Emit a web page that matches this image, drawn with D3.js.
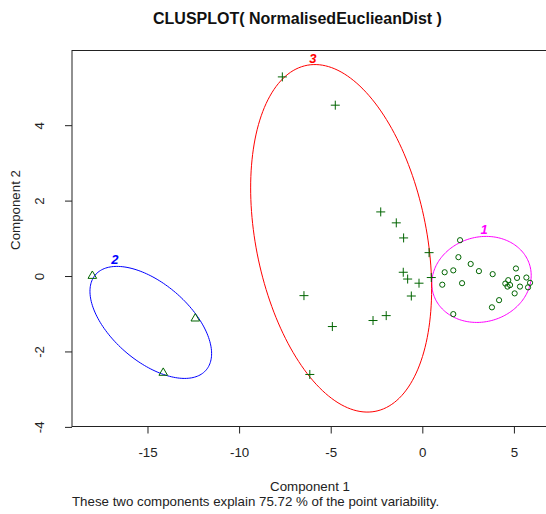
<!DOCTYPE html>
<html>
<head>
<meta charset="utf-8">
<script src="https://cdn.jsdelivr.net/npm/d3@7"></script>
<style>
  body { margin: 0; background: #fff; }
  svg { font-family: "Liberation Sans", Arial, sans-serif; }
</style>
</head>
<body>
<div id="chart"></div>
<script>
var width = 546;
var height = 514;

// points (component 1, component 2) and their cluster
var comp1 = [
  2.06, 1.97, 2.64, 1.22, 1.69, 3.09, 3.84, 5.11, 1.09, 2.17, 4.69, 4.53,
  4.79, 5.17, 5.68, 5.88, 5.33, 5.77, 5.04, 4.19, 3.80, 1.69, 4.65,
  -18.01, -12.39, -14.14,
  -2.27, -1.42, -1.02, 0.37, -1.04, -0.80, -0.18, 0.49, -0.60, -6.46, -1.97,
  -2.69, -4.91, -7.64, -4.75, -6.14
];
var comp2 = [
  0.95, 0.50, 0.32, 0.10, 0.15, 0.13, 0.05, 0.20, -0.23, -0.19, -0.11, -0.20,
  -0.24, -0.05, -0.04, -0.18, -0.28, -0.30, -0.46, -0.64, -0.83, -1.01, -0.28,
  0.02, -1.11, -2.55,
  1.70, 1.41, 1.01, 0.62, 0.10, -0.08, -0.19, -0.04, -0.53, -0.52, -1.05,
  -1.18, -1.34, 5.28, 4.53, -2.61
];
var cluster = [
  1, 1, 1, 1, 1, 1, 1, 1, 1, 1, 1, 1, 1, 1, 1, 1, 1, 1, 1, 1, 1, 1, 1,
  2, 2, 2,
  3, 3, 3, 3, 3, 3, 3, 3, 3, 3, 3, 3, 3, 3, 3, 3
];

// cluster ellipses: centre and shape matrix [sxx, sxy, syy]
var ellipseId = [1, 2, 3];
var ellipseCx = [3.23, -14.82, -4.43];
var ellipseCy = [-0.09, -1.23, 1.00];
var ellipseSxx = [7.36, 11.02, 24.40];
var ellipseSxy = [0.29, -2.741, -6.60];
var ellipseSyy = [1.301, 2.206, 21.23];
var ellipseColor = ["#FF00FF", "#0000FF", "#FF0000"];

var xTicks = [-15, -10, -5, 0, 5];
var yTicks = [-4, -2, 0, 2, 4];

var margin = {left: 72, top: 50.5, right: 548, bottom: 426.5};
var fontSize = "13.3px";

var svg = d3.select("#chart")
  .append("svg")
  .attr("width", width)
  .attr("height", height)

var x = d3.scaleLinear()
  .domain([-19.12, 6.86])
  .range([margin.left, margin.right])

var y = d3.scaleLinear()
  .domain([-3.99, 5.98])
  .range([margin.bottom, margin.top])

// frame
svg.append("rect")
  .attr("x", margin.left)
  .attr("y", margin.top)
  .attr("width", margin.right - margin.left)
  .attr("height", margin.bottom - margin.top)
  .attr("fill", "none")
  .attr("stroke", "#222")
  .attr("stroke-width", 1)

// axes (plain hyphen minus like R)
var xAxis = svg.append("g")
  .attr("transform", "translate(0," + margin.bottom + ")")
  .call(d3.axisBottom(x).tickValues(xTicks).tickSize(7).tickPadding(14).tickFormat(d => String(d)))
xAxis.select(".domain").remove()

var yAxis = svg.append("g")
  .attr("transform", "translate(" + margin.left + ",0)")
  .call(d3.axisLeft(y).tickValues(yTicks).tickSize(7).tickFormat(d => String(d)))
yAxis.select(".domain").remove()
yAxis.selectAll("text")
  .attr("x", null)
  .attr("dy", null)
  .attr("text-anchor", "middle")
  .attr("transform", "translate(-28,0) rotate(-90)")

svg.selectAll(".tick text")
  .style("font-family", "Liberation Sans, Arial, sans-serif")
  .style("font-size", fontSize)
  .attr("fill", "#222")
svg.selectAll(".tick line").attr("stroke", "#222")

// ellipses
var lineGen = d3.line().x(d => x(d[0])).y(d => y(d[1]))
ellipseId.forEach(function(id, i) {
  var a = Math.sqrt(ellipseSxx[i]);
  var l21 = ellipseSxy[i] / a;
  var l22 = Math.sqrt(ellipseSyy[i] - l21 * l21);
  var pts = d3.range(0, 361, 2).map(function(deg) {
    var t = deg * Math.PI / 180;
    var u = Math.cos(t), v = Math.sin(t);
    return [ellipseCx[i] + a * u, ellipseCy[i] + l21 * u + l22 * v];
  });
  svg.append("path")
    .attr("d", lineGen(pts))
    .attr("fill", "none")
    .attr("stroke", ellipseColor[i])
    .attr("stroke-width", 1)

  // label at top of ellipse
  var sy = Math.sqrt(ellipseSyy[i]);
  svg.append("text")
    .attr("x", x(ellipseCx[i] + ellipseSxy[i] / sy) - 2)
    .attr("y", y(ellipseCy[i] + sy) - 2)
    .attr("text-anchor", "middle")
    .style("font-size", "13px")
    .style("font-weight", "bold")
    .style("font-style", "italic")
    .attr("fill", ellipseColor[i])
    .text(id)
})

// points
var ptColor = "#006400";
var points = comp1.map((d, i) => ({c1: d, c2: comp2[i], k: cluster[i]}))

svg.append("g")
  .selectAll("path")
  .data(points)
  .join("path")
    .attr("d", function(d) {
      var px = x(d.c1), py = y(d.c2);
      if (d.k === 1) {
        var r = 2.6;
        return "M" + (px - r) + "," + py + "a" + r + "," + r + " 0 1,0 " + (2 * r) + ",0" + "a" + r + "," + r + " 0 1,0 " + (-2 * r) + ",0Z";
      } else if (d.k === 2) {
        return "M" + px + "," + (py - 4.3) + "L" + (px + 4.3) + "," + (py + 3.1) + "L" + (px - 4.3) + "," + (py + 3.1) + "Z";
      }
      return "M" + (px - 4.5) + "," + py + "H" + (px + 4.5) + "M" + px + "," + (py - 4.5) + "V" + (py + 4.5);
    })
    .attr("fill", "none")
    .attr("stroke", ptColor)
    .attr("stroke-width", 1)

// titles
svg.append("text")
  .attr("x", 153)
  .attr("y", 24)
  .style("font-size", "16px")
  .style("font-weight", "bold")
  .attr("fill", "#111")
  .text("CLUSPLOT( NormalisedEuclieanDist )")

svg.append("text")
  .attr("x", 310)
  .attr("y", 491)
  .attr("text-anchor", "middle")
  .style("font-size", fontSize)
  .attr("fill", "#222")
  .text("Component 1")

svg.append("text")
  .attr("transform", "translate(20,210) rotate(-90)")
  .attr("text-anchor", "middle")
  .style("font-size", fontSize)
  .attr("fill", "#222")
  .text("Component 2")

svg.append("text")
  .attr("x", 72)
  .attr("y", 506)
  .style("font-size", fontSize)
  .attr("fill", "#222")
  .text("These two components explain 75.72 % of the point variability.")
</script>
</body>
</html>
